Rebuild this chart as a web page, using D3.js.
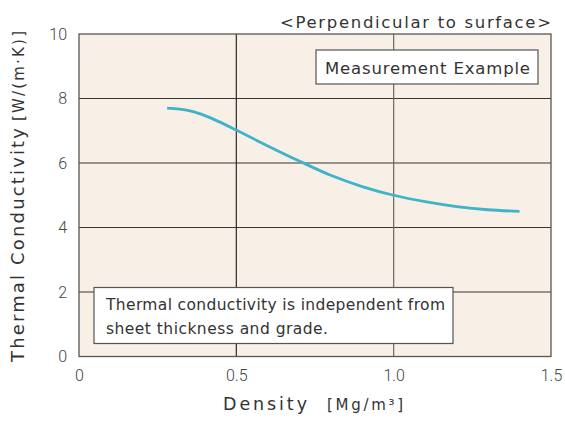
<!DOCTYPE html>
<html><head><meta charset="utf-8">
<script src="https://cdn.jsdelivr.net/npm/d3@7"></script>
<style>body{margin:0;background:#fff}svg{display:block}</style>
</head><body>
<script>
const density = [0.28,0.32,0.36,0.4,0.45,0.5,0.6,0.7,0.8,0.9,1.0,1.1,1.2,1.3,1.4];
const conductivity = [7.7,7.67,7.6,7.47,7.26,7.02,6.53,6.06,5.62,5.27,5.0,4.8,4.65,4.55,4.5];
const xTicks = [0,0.5,1.0,1.5];
const xTickLabels = ["0","0.5","1.0","1.5"];
const yTicks = [0,2,4,6,8,10];

const W=565,H=427;
const m={l:79,r:551,t:34,b:356.5};
const svg=d3.select("body").append("svg").attr("width",W).attr("height",H);
const x=d3.scaleLinear().domain([0,1.5]).range([m.l,m.r]);
const y=d3.scaleLinear().domain([0,10]).range([m.b,m.t]);
const font="'DejaVu Sans', sans-serif";
const tickFont="Roboto, sans-serif";

svg.append("rect").attr("x",m.l).attr("y",m.t).attr("width",m.r-m.l).attr("height",m.b-m.t).attr("fill","#f8efe6");

// grid
svg.append("g").selectAll("line").data(yTicks.slice(1,-1)).join("line")
  .attr("x1",m.l).attr("x2",m.r).attr("y1",d=>y(d)).attr("y2",d=>y(d))
  .attr("stroke","#3a3533").attr("stroke-width",1.2);
svg.append("g").selectAll("line").data(xTicks.slice(1,-1)).join("line")
  .attr("y1",m.t).attr("y2",m.b).attr("x1",d=>x(d)).attr("x2",d=>x(d))
  .attr("stroke",(d,i)=>i==0?"#2e2a28":"#6e6864").attr("stroke-width",1.2);
svg.append("rect").attr("x",m.l).attr("y",m.t).attr("width",m.r-m.l).attr("height",m.b-m.t)
  .attr("fill","none").attr("stroke","#5a5552").attr("stroke-width",1.3);

// curve
const line=d3.line().x((d,i)=>x(density[i])).y(d=>y(d)).curve(d3.curveCatmullRom.alpha(0.5));
svg.append("path").datum(conductivity).attr("d",line).attr("fill","none")
  .attr("stroke","#3fb3c9").attr("stroke-width",2.8);

// ticks labels
const xa=d3.axisBottom(x).tickValues(xTicks).tickFormat((d,i)=>xTickLabels[i]).tickSize(0).tickPadding(0);
const gx=svg.append("g").attr("transform",`translate(0,${m.b})`).call(xa);
gx.select(".domain").remove();
gx.selectAll("text").attr("font-family",tickFont).attr("font-size",16).attr("fill","#444").attr("dy",null).attr("y",24.5).attr("font-weight",300);
const ya=d3.axisLeft(y).tickValues(yTicks).tickSize(0).tickPadding(12);
const gy=svg.append("g").attr("transform",`translate(${m.l},0)`).call(ya);
gy.select(".domain").remove();
gy.selectAll("text").attr("font-family",tickFont).attr("font-size",16).attr("fill","#444").attr("font-weight",300);

// axis titles
svg.append("text").attr("x",223).attr("y",410).attr("font-family",font).attr("font-size",17.5).attr("fill","#333")
  .attr("textLength",84).attr("lengthAdjust","spacing").text("Density");
svg.append("text").attr("x",327).attr("y",410).attr("font-family",font).attr("font-size",15).attr("fill","#333")
  .attr("textLength",76).attr("lengthAdjust","spacing").text("[Mg/m³]");
svg.append("text").attr("transform","translate(24,362) rotate(-90)").attr("font-family",font).attr("font-size",18).attr("fill","#333")
  .attr("textLength",234).attr("lengthAdjust","spacing").text("Thermal Conductivity");
svg.append("text").attr("transform","translate(24,121) rotate(-90)").attr("font-family",font).attr("font-size",15).attr("fill","#333")
  .attr("textLength",90).attr("lengthAdjust","spacing").text("[W/(m·K)]");

// top right
svg.append("text").attr("x",280).attr("y",28).attr("font-family",font).attr("font-size",16.5).attr("fill","#333")
  .attr("textLength",271).attr("lengthAdjust","spacing").text("<Perpendicular to surface>");

// boxes
svg.append("rect").attr("x",316).attr("y",50).attr("width",222).attr("height",34).attr("fill","#fff").attr("stroke","#555").attr("stroke-width",1.2);
svg.append("text").attr("x",325).attr("y",73.5).attr("font-family",font).attr("font-size",16.5).attr("fill","#333")
  .attr("textLength",205).attr("lengthAdjust","spacing").text("Measurement Example");
svg.append("rect").attr("x",94).attr("y",287.5).attr("width",359).attr("height",56).attr("fill","#fff").attr("stroke","#555").attr("stroke-width",1.2);
svg.append("text").attr("x",106).attr("y",310).attr("font-family",font).attr("font-size",15.5).attr("fill","#333")
  .attr("textLength",339).attr("lengthAdjust","spacing").text("Thermal conductivity is independent from");
svg.append("text").attr("x",106).attr("y",334).attr("font-family",font).attr("font-size",15.5).attr("fill","#333")
  .attr("textLength",222).attr("lengthAdjust","spacing").text("sheet thickness and grade.");
</script>
</body></html>
